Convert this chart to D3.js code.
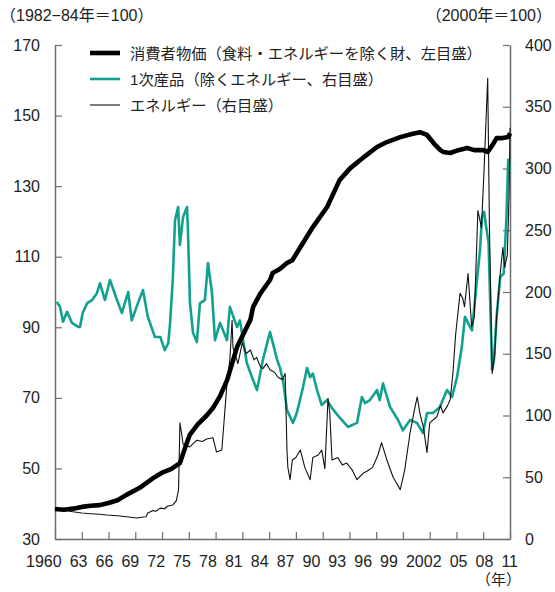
<!DOCTYPE html>
<html>
<head>
<meta charset="utf-8">
<script src="https://cdn.jsdelivr.net/npm/d3@7/dist/d3.min.js"></script>
<style>
  html, body { margin: 0; padding: 0; background: #fff; }
  svg { display: block; }
  .num { font-family: "Liberation Sans", Arial, Helvetica, sans-serif; font-size: 16px; fill: #222; }
  .jp { font-family: "Liberation Sans", "Noto Sans CJK JP", sans-serif; fill: #222; }
</style>
</head>
<body>
<svg id="chart" width="555" height="592"></svg>
<script>
// ---------- DATA ----------
// Consumer price index, commodities less food & energy (left scale, 1982-84=100)
const coreCPI = [
  [1960,38.5],[1961,38.3],[1962,38.6],[1963,39.1],[1964,39.4],[1965,39.6],[1966,40.2],[1967,41.0],
  [1968,42.5],[1969.5,44.5],[1970.3,46.0],[1971.2,47.6],[1972,48.8],[1973,49.8],[1974,51.5],
  [1974.6,56.0],[1975.1,59.5],[1976,62.5],[1977,65.0],[1977.7,67.1],[1978.5,70.5],[1979.3,75.1],
  [1980.4,84.4],[1981.9,92.1],[1982.2,95.7],[1983,99.5],[1984.1,103.4],[1984.4,105.4],[1985.2,106.5],
  [1986,108.2],[1986.6,109.0],[1987.5,112.7],[1988.9,118.4],[1990.5,124.1],[1991.9,131.7],
  [1993.1,135.1],[1994.5,138.0],[1996.1,141.1],[1997.2,142.5],[1998.7,143.9],[2000.0,144.8],
  [2000.9,145.3],[2001.7,144.5],[2002.5,142.0],[2003.2,140.2],[2003.5,139.7],[2004.3,139.4],
  [2005.2,140.2],[2006.2,140.8],[2007,140.2],[2008,140.2],[2008.5,139.7],[2009,141.5],
  [2009.5,143.6],[2010,143.6],[2010.8,143.9],[2011,145.0]
];
// Primary commodities excluding energy (right scale, 2000=100)
const commodities = [
  [1960.2,192],[1960.56,188],[1960.9,176],[1961.35,184],[1961.9,175],[1962.6,171.7],[1962.8,171.7],
  [1963.1,183],[1963.6,191],[1964.15,193.5],[1964.7,199],[1965.04,207],[1965.6,193.5],[1966.16,209.7],
  [1966.95,193.5],[1967.5,183],[1968.2,200],[1968.6,177],[1969.3,191],[1969.86,201.6],[1970.4,180],
  [1971.2,163.6],[1971.8,163.6],[1972.3,153],[1972.7,158.7],[1972.9,175],[1973.2,209.7],[1973.45,258],
  [1973.8,268.8],[1974.0,238],[1974.35,260.7],[1974.8,268.8],[1974.9,250],[1975.13,191],[1975.47,167],
  [1975.9,159.5],[1976.25,191],[1976.8,193.5],[1977.15,223.5],[1977.6,199],[1977.93,161],[1978.5,175],
  [1979.28,161],[1979.6,188],[1980.4,171.7],[1980.73,177],[1981.5,142.5],[1982.2,128.7],[1982.64,120.6],
  [1983.3,145],[1984.1,167.6],[1984.9,145],[1985.2,139],[1985.55,128.7],[1986.0,104.5],[1986.67,94],
  [1987.1,102],[1987.8,123],[1988.25,138.5],[1988.6,131],[1988.9,134],[1989.37,120.6],[1989.9,108.5],
  [1990.5,112.5],[1991.05,106],[1991.94,98],[1992.84,90.7],[1993.85,94],[1994.4,115],[1994.75,110],
  [1995.3,112.5],[1996.1,120.6],[1996.4,112.5],[1996.76,126],[1997.55,107],[1998.45,96.4],[1999.0,88],
  [1999.8,96.4],[2000.57,94],[2001.25,85.8],[2001.7,102],[2002.37,102],[2003.15,107],[2003.94,120.6],
  [2004.5,115],[2005.06,131],[2005.6,155.5],[2005.95,180],[2006.3,175],[2006.74,169],[2007.3,210],
  [2007.64,234],[2007.86,260.7],[2008.1,265],[2008.3,254],[2008.6,240],[2008.9,160],[2009.0,137],
  [2009.2,145],[2009.5,180],[2009.9,212],[2010.3,215],[2010.6,260],[2010.8,307],[2011.0,299]
];
// Energy (right scale, 2000=100)
const energy = [
  [1960.0,25],[1961,23.5],[1962,22],[1963,21],[1964,20.5],[1965,20],[1965.8,19.4],[1967,18.8],
  [1968,18],[1969.2,17],[1969.9,17.8],[1970.2,18],[1970.4,21],[1971.0,23],[1971.3,22.5],[1971.8,25],
  [1972.3,24.5],[1972.6,26.5],[1973.2,27.5],[1973.6,31],[1973.85,40],[1974.0,94],[1974.2,85],
  [1974.35,77],[1975.1,74.5],[1975.3,76],[1975.9,80],[1976.5,79],[1977,81],[1977.7,82],[1978.1,70.5],
  [1978.7,72],[1979.0,100],[1979.3,128],[1979.6,145],[1979.85,177],[1979.95,155],[1980.5,142],
  [1981.0,159],[1981.4,150],[1981.9,153],[1982.3,145],[1982.6,147],[1983.0,140],[1983.3,138],
  [1983.7,142],[1984.1,137],[1984.6,135],[1985.0,131],[1985.5,129],[1985.8,134],[1986.0,72],
  [1986.1,58],[1986.35,48],[1986.6,64],[1987.0,66],[1987.5,72],[1988.0,58],[1988.6,48],[1988.9,66],
  [1989.5,68],[1989.9,72],[1990.25,57],[1990.6,114],[1990.8,102],[1991.05,64],[1991.7,66],[1992.2,60],
  [1992.7,61.5],[1993.3,56],[1993.85,48],[1994.5,53],[1995.0,55],[1995.6,58],[1996.2,68],[1996.6,78],
  [1997.2,64],[1997.9,50],[1998.3,45],[1998.7,40],[1999.2,56],[1999.8,86],[2000.3,105],[2000.6,115],
  [2000.9,102],[2001.3,90],[2001.7,70],[2002.0,94],[2002.8,99],[2003.2,108],[2003.5,102],[2004.0,108],
  [2004.3,113],[2004.6,134],[2004.9,165],[2005.4,199],[2005.7,195],[2005.9,188],[2006.3,215],
  [2006.7,172],[2007.0,180],[2007.4,266],[2007.8,252],[2008.1,300],[2008.5,373],[2008.7,250],
  [2009.0,134],[2009.3,150],[2009.5,180],[2009.9,215],[2010.2,236],[2010.4,220],[2010.7,230],
  [2010.9,280],[2011.0,333]
];

const leftTicks = [30, 50, 70, 90, 110, 130, 150, 170];
const rightTicks = [0, 50, 100, 150, 200, 250, 300, 350, 400];
const xTickYears = [1960,1963,1966,1969,1972,1975,1978,1981,1984,1987,1990,1993,1996,1999,2002,2005,2008,2011];
const xTickLabels = ["1960","63","66","69","72","75","78","81","84","87","90","93","96","99","2002","05","08","11"];

const seriesNames = [
  "消費者物価（食料・エネルギーを除く財、左目盛）",
  "1次産品（除くエネルギー、右目盛）",
  "エネルギー（右目盛）"
];
const leftUnit = "（1982−84年＝100）";
const rightUnit = "（2000年＝100）";
const xUnit = "（年）";

// ---------- DRAW ----------
const svg = d3.select("#chart");
const L = 55, R = 510, T = 45, B = 539;
const axisColor = "#6e6e6e";
const teal = "#12a08f";

const x = d3.scaleLinear().domain([1960, 2011]).range([L, R]);
const yL = d3.scaleLinear().domain([30, 170]).range([B, T]);
const yR = d3.scaleLinear().domain([0, 400]).range([B, T]);

function styleAxis(g) {
  g.select(".domain").attr("stroke", axisColor).attr("stroke-width", 1.5);
  g.selectAll(".tick line").attr("stroke", axisColor).attr("stroke-width", 1.2);
  g.selectAll(".tick text").attr("class", "num").attr("fill", "#222");
}

svg.append("g").attr("transform", `translate(${L},0)`)
  .call(d3.axisLeft(yL).tickValues(leftTicks).tickSizeInner(-7).tickSizeOuter(0).tickPadding(15))
  .call(styleAxis);
svg.append("g").attr("transform", `translate(${R},0)`)
  .call(d3.axisRight(yR).tickValues(rightTicks).tickSizeInner(-7).tickSizeOuter(0).tickPadding(15))
  .call(styleAxis);
svg.append("g").attr("transform", `translate(0,${B})`)
  .call(d3.axisBottom(x).tickValues(xTickYears).tickSizeInner(-7).tickSizeOuter(0).tickFormat(""))
  .call(styleAxis);

// x labels set as a continuous run of text under the axis (as in the original)
const labs = svg.append("g").selectAll("text").data(xTickLabels).join("text")
  .attr("class", "num").attr("y", B + 28).text(d => d);
const widths = labs.nodes().map(n => n.getComputedTextLength());
const startX = 26, endX = 518;
const gap = (endX - startX - d3.sum(widths)) / (widths.length - 1);
let cx = startX;
labs.each(function(d, i) { d3.select(this).attr("x", cx); cx += widths[i] + gap; });

svg.append("text").attr("class", "jp").attr("font-size", 15)
  .attr("x", 521).attr("y", B + 46).attr("text-anchor", "end").text(xUnit);
svg.append("text").attr("class", "jp").attr("font-size", 16)
  .attr("x", 0).attr("y", 21).text(leftUnit);
svg.append("text").attr("class", "jp").attr("font-size", 16)
  .attr("x", 552).attr("y", 21).attr("text-anchor", "end").text(rightUnit);

// lines
const lineL = d3.line().x(d => x(d[0])).y(d => yL(d[1]));
const lineR = d3.line().x(d => x(d[0])).y(d => yR(d[1]));

svg.append("path").datum(commodities).attr("d", lineR)
  .attr("fill", "none").attr("stroke", teal).attr("stroke-width", 2.6).attr("stroke-linejoin", "round");
svg.append("path").datum(energy).attr("d", lineR)
  .attr("fill", "none").attr("stroke", "#111").attr("stroke-width", 1.1).attr("stroke-linejoin", "round");
svg.append("path").datum(coreCPI).attr("d", lineL)
  .attr("fill", "none").attr("stroke", "#000").attr("stroke-width", 4.6).attr("stroke-linejoin", "round");

// legend
const legendStyles = [
  { color: "#000", width: 4.6 },
  { color: teal, width: 2.6 },
  { color: "#111", width: 1.1 }
];
const lg = svg.append("g");
seriesNames.forEach((name, i) => {
  const yy = 53 + i * 26;
  lg.append("line").attr("x1", 90).attr("x2", 120).attr("y1", yy).attr("y2", yy)
    .attr("stroke", legendStyles[i].color).attr("stroke-width", legendStyles[i].width);
  lg.append("text").attr("class", "jp").attr("font-size", 15.3)
    .attr("x", 130).attr("y", yy).attr("dy", "0.36em").text(name);
});
</script>
</body>
</html>
